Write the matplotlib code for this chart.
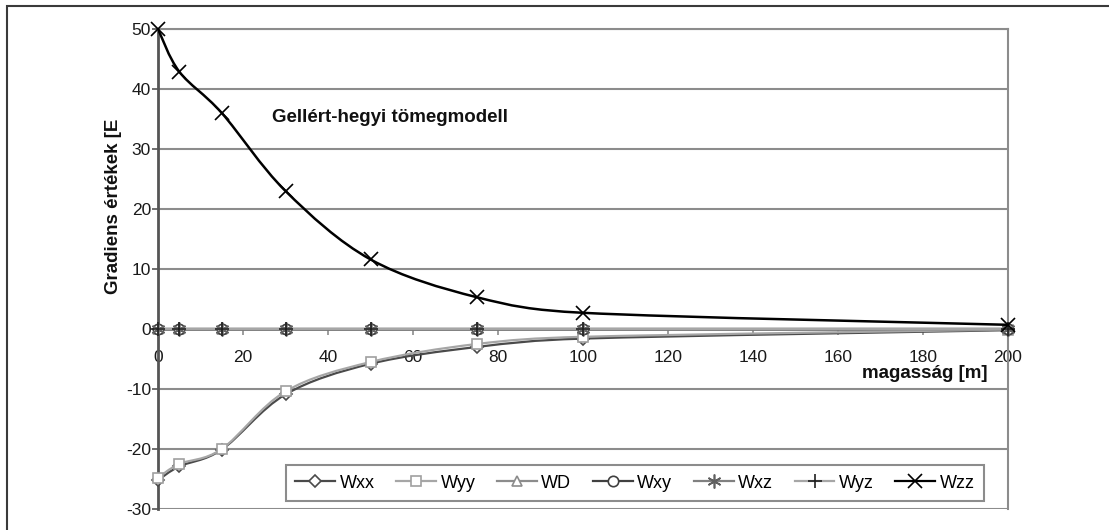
import matplotlib
matplotlib.use("Agg")
import matplotlib.pyplot as plt
from matplotlib.path import Path
from matplotlib.patches import PathPatch, Rectangle
from matplotlib.lines import Line2D

plt.rcParams['font.family'] = ['Liberation Sans', 'DejaVu Sans']
plt.rcParams['axes.unicode_minus'] = False

# Measurement heights [m] and gradient components [E]
height = [0, 5, 15, 30, 50, 75, 100, 200]
wxx = [-25.2, -22.9, -20.1, -10.9, -5.8, -3.0, -1.6, -0.2]
wyy = [-24.8, -22.5, -20.0, -10.4, -5.5, -2.5, -1.3, -0.1]
wd = [0, 0, 0, 0, 0, 0, 0, 0]
wxy = [0, 0, 0, 0, 0, 0, 0, 0]
wxz = [0, 0, 0, 0, 0, 0, 0, 0]
wyz = [0, 0, 0, 0, 0, 0, 0, 0]
wzz = [50.0, 42.9, 36.0, 23.0, 11.6, 5.3, 2.7, 0.7]

x_ticks = [0, 20, 40, 60, 80, 100, 120, 140, 160, 180, 200]
y_ticks = [-30, -20, -10, 0, 10, 20, 30, 40, 50]

title_text = "Gellért-hegyi tömegmodell"
x_label = "magasság [m]"
y_label = "Gradiens értékek [E"

AST = (6, 2, 0)
series = [
    ("Wxx", wxx, dict(color="#4a4a4a", marker="D", ms=6.5, mfc="white", mec="#4a4a4a")),
    ("Wyy", wyy, dict(color="#a6a6a6", marker="s", ms=6.5, mfc="white", mec="#a0a0a0")),
    ("WD", wd, dict(color="#8c8c8c", marker="^", ms=7.5, mfc="white", mec="#8c8c8c")),
    ("Wxy", wxy, dict(color="#404040", marker="o", ms=7.5, mfc="white", mec="#404040")),
    ("Wxz", wxz, dict(color="#808080", marker=AST, ms=10, mfc="none", mec="#606060")),
    ("Wyz", wyz, dict(color="#a6a6a6", marker="+", ms=10, mfc="none", mec="#202020")),
    ("Wzz", wzz, dict(color="#000000", marker="x", ms=10, mfc="none", mec="#000000")),
]


def smooth_path(xs, ys):
    """Cubic Bezier path through the points; handles are kept inside each
    segment so the curve never doubles back in x."""
    pts = list(zip(xs, ys))
    n = len(pts)
    tangents = []
    for i in range(n):
        a = pts[i - 1] if i > 0 else pts[i]
        b = pts[i + 1] if i + 1 < n else pts[i]
        tangents.append(((b[0] - a[0]) / 6.0, (b[1] - a[1]) / 6.0))

    def clamp(t, dx):
        lim = dx / 2.0
        if t[0] > lim:
            s = lim / t[0]
            return (t[0] * s, t[1] * s)
        return t

    verts = [pts[0]]
    codes = [Path.MOVETO]
    for i in range(n - 1):
        p1, p2 = pts[i], pts[i + 1]
        dx = p2[0] - p1[0]
        t1 = clamp(tangents[i], dx)
        t2 = clamp(tangents[i + 1], dx)
        c1 = (p1[0] + t1[0], p1[1] + t1[1])
        c2 = (p2[0] - t2[0], p2[1] - t2[1])
        verts += [c1, c2, p2]
        codes += [Path.CURVE4] * 3
    return Path(verts, codes)


W, H = 1109, 530
fig = plt.figure(figsize=(W / 100, H / 100), dpi=100)

# outer frame (only top and left edges fall inside the image)
fig.patches.append(Rectangle((7 / W, -0.2), 1.3, 1.2 - 6 / H, transform=fig.transFigure,
                             fill=False, edgecolor="#3a3a3a", lw=1.5, clip_on=False))

ax = fig.add_axes([158 / W, 1 - 509 / H, 850 / W, 480 / H])
ax.set_xlim(0, 200)
ax.set_ylim(-30, 50)

handles = []
for z, (name, vals, st) in enumerate(series):
    patch = PathPatch(smooth_path(height, vals), fill=False, edgecolor=st["color"],
                      lw=1.6 if name != "Wzz" else 1.8, zorder=3 + z, capstyle="round")
    ax.add_patch(patch)
    ax.plot(height, vals, linestyle="none", marker=st["marker"], ms=st["ms"],
            mfc=st["mfc"], mec=st["mec"], mew=1.2, zorder=3 + z + 0.5, clip_on=False)
    handles.append(Line2D([], [], color=st["color"], lw=1.6, marker=st["marker"],
                          ms=st["ms"], mfc=st["mfc"], mec=st["mec"], mew=1.2, label=name))

ax.set_xticks(x_ticks)
ax.set_yticks(y_ticks)
ax.set_axisbelow(True)
ax.yaxis.grid(True, color="#8c8c8c", lw=1.5)
ax.xaxis.grid(False)

for side in ("top", "right"):
    ax.spines[side].set_color("#8c8c8c")
    ax.spines[side].set_linewidth(1.5)
ax.spines["left"].set_color("#555555")
ax.spines["left"].set_linewidth(2)
ax.spines["bottom"].set_position(("data", 0))
ax.spines["bottom"].set_color("#7a7a7a")
ax.spines["bottom"].set_linewidth(2)

ax.tick_params(axis="y", direction="out", length=4, width=1.2, color="#555555",
               labelsize=12.5, pad=1, labelcolor="#1a1a1a")
ax.tick_params(axis="x", direction="out", length=4, width=1.2, color="#8c8c8c",
               labelsize=12.5, pad=11, labelcolor="#1a1a1a")

fig.text(272 / W, 1 - 118 / H, title_text, ha="left", va="center",
         fontsize=13.5, fontweight="bold", color="#111111")
fig.text(988 / W, 1 - 374 / H, x_label, ha="right", va="center",
         fontsize=13.5, fontweight="bold", color="#111111")
fig.text(113 / W, 1 - 206 / H, y_label, ha="center", va="center", rotation=90,
         fontsize=13.5, fontweight="bold", color="#111111")

leg = fig.legend(handles=handles, loc="center", ncol=7,
                 bbox_to_anchor=(635 / W, 1 - 483 / H), bbox_transform=fig.transFigure,
                 fontsize=13, frameon=True, fancybox=False, framealpha=1,
                 edgecolor="#8c8c8c", handlelength=2.2, handletextpad=0.25,
                 columnspacing=1.2, borderpad=0.5)
leg.get_frame().set_linewidth(1.5)

fig.savefig("out.png", dpi=100)
